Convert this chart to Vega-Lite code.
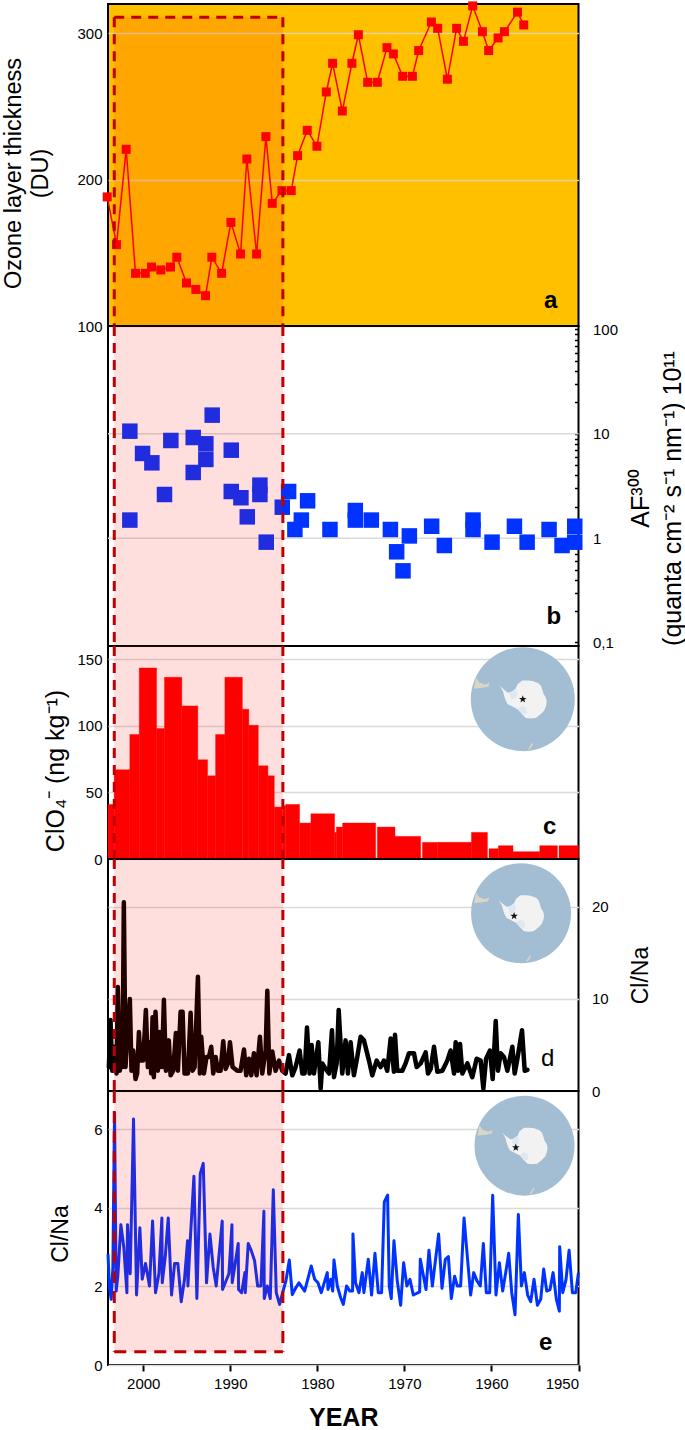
{"$schema":"https://vega.github.io/schema/vega-lite/v6.json","background":"white","padding":{"left":0,"top":0,"right":0,"bottom":0},"spacing":0,"bounds":"flush","config":{"font":"Liberation Sans","view":{"stroke":"black","strokeWidth":2},"axis":{"labelFont":"Liberation Sans","titleFont":"Liberation Sans","labelFontSize":15,"labelColor":"black","titleColor":"black","titleFontWeight":"normal","titleFontSize":23,"domain":false,"ticks":false,"labelPadding":6,"gridColor":"#DADADA","gridWidth":1.5,"gridOpacity":1}},"datasets":{"band":[{"year":2003.33,"year_end":1983.96}],"edges":[{"year":2003.33},{"year":1983.96}],"span":[{"year":2003.33,"year_end":1983.96}]},"vconcat":[{"width":470.5,"height":322,"view":{"fill":"#FFC000"},"encoding":{"x":{"field":"year","type":"quantitative","scale":{"domain":[2004.05,1950]},"axis":null}},"layer":[{"data":{"values":[{"year":2004.14,"value":188.2},{"year":2003.07,"value":155.6},{"year":2001.96,"value":220.7},{"year":2000.89,"value":136},{"year":1999.77,"value":136},{"year":1999.05,"value":140.3},{"year":1997.98,"value":138.3},{"year":1996.87,"value":140.3},{"year":1996.14,"value":147},{"year":1995.03,"value":129.4},{"year":1993.96,"value":125},{"year":1992.84,"value":120.7},{"year":1992.12,"value":147},{"year":1991.0,"value":136},{"year":1989.93,"value":170.8},{"year":1988.82,"value":149.2},{"year":1988.1,"value":214.1},{"year":1986.98,"value":149.2},{"year":1985.91,"value":229.4},{"year":1985.18,"value":183.8},{"year":1984.07,"value":192.5},{"year":1983.0,"value":192.5},{"year":1982.27,"value":216.4},{"year":1981.16,"value":233.7},{"year":1980.05,"value":222.8},{"year":1978.97,"value":259.9},{"year":1978.25,"value":279.5},{"year":1977.13,"value":246.9},{"year":1976.03,"value":279.5},{"year":1975.29,"value":299},{"year":1974.22,"value":266.5},{"year":1973.11,"value":266.5},{"year":1972.0,"value":290.2},{"year":1971.27,"value":285.9},{"year":1970.2,"value":270.6},{"year":1969.08,"value":270.6},{"year":1968.36,"value":288.2},{"year":1966.9,"value":307.7},{"year":1966.18,"value":303.4},{"year":1965.06,"value":268.6},{"year":1964.0,"value":303.4},{"year":1963.22,"value":294.5},{"year":1962.15,"value":318.7},{"year":1961.04,"value":301.1},{"year":1960.32,"value":288.2},{"year":1959.24,"value":296.8},{"year":1958.51,"value":301.1},{"year":1957.01,"value":314.4},{"year":1956.29,"value":305.7}]},"encoding":{"y":{"field":"value","type":"quantitative","scale":{"domain":[100,320],"nice":false,"zero":false},"axis":{"orient":"left","values":[100,200,300],"grid":true,"gridColor":"#E4D4A2","title":["Ozone  layer thickness","(DU)"],"titleFontSize":23.5,"titleX":-82.8,"titleY":169,"titleLineHeight":27}}},"layer":[{"mark":{"type":"line","color":"#FF0000","strokeWidth":1.5}},{"mark":{"type":"point","shape":"square","filled":true,"opacity":1,"size":81,"color":"#FF0000"}}]},{"data":{"name":"band"},"mark":{"type":"rect","color":"#FF0000","opacity":0.13},"encoding":{"x2":{"field":"year_end"},"y":{"datum":311,"type":"quantitative"},"y2":{"datum":100}}},{"data":{"name":"edges"},"mark":{"type":"rule","color":"#C00000","strokeWidth":3,"strokeDash":[10,7]},"encoding":{"y":{"datum":311,"type":"quantitative"},"y2":{"datum":100}}},{"data":{"name":"span"},"mark":{"type":"rule","color":"#C00000","strokeWidth":3,"strokeDash":[10,7]},"encoding":{"x2":{"field":"year_end"},"y":{"datum":311,"type":"quantitative"}}},{"data":{"values":[{"year":1953.19,"value":117,"label":"a"}]},"mark":{"type":"text","fontSize":24,"fontWeight":"bold","color":"black","baseline":"middle"},"encoding":{"y":{"field":"value","type":"quantitative"},"text":{"field":"label"}}}]},{"width":470.5,"height":320,"encoding":{"x":{"field":"year","type":"quantitative","scale":{"domain":[2004.05,1950]},"axis":null}},"layer":[{"data":{"values":[{"year":2001,"value":10},{"year":2001,"value":1}]},"mark":{"type":"rule","color":"#DADADA","strokeWidth":1.5},"encoding":{"x":{"value":0},"x2":{"value":470.5},"y":{"field":"value","type":"quantitative","scale":{"type":"log","domain":[0.0925,108],"nice":false},"axis":{"orient":"right","grid":false,"ticks":true,"tickSize":-4,"tickWidth":1.5,"tickColor":"black","labelPadding":18,"labelAlign":"left","values":[0.1,0.2,0.3,0.4,0.5,0.6,0.7,0.8,0.9,1,2,3,4,5,6,7,8,9,10,20,30,40,50,60,70,80,90,100],"labelOverlap":false,"labelBound":false,"labelFlush":false,"labelExpr":"datum.value==100?'100':datum.value==10?'10':datum.value==1?'1':datum.value==0.1?'0,1':''","title":["AF³⁰⁰","(quanta  cm⁻² s⁻¹ nm⁻¹) 10¹¹"],"titleFontSize":25,"titleX":74.5,"titleY":172,"titleAngle":270,"titleBaseline":"bottom","titleLineHeight":32}}}},{"data":{"values":[{"year":2001.54,"value":10.6},{"year":2001.54,"value":1.49},{"year":2000.08,"value":6.48},{"year":1999.01,"value":5.27},{"year":1997.56,"value":2.62},{"year":1996.83,"value":8.63},{"year":1994.26,"value":9.22},{"year":1994.26,"value":4.26},{"year":1992.81,"value":8.02},{"year":1992.81,"value":5.68},{"year":1992.08,"value":15.1},{"year":1989.89,"value":6.97},{"year":1989.89,"value":2.8},{"year":1988.78,"value":2.44},{"year":1988.05,"value":1.6},{"year":1986.6,"value":3.22},{"year":1986.6,"value":2.62},{"year":1985.87,"value":0.915},{"year":1984.03,"value":1.98},{"year":1983.3,"value":2.8},{"year":1982.58,"value":1.21},{"year":1981.84,"value":1.49},{"year":1981.12,"value":2.28},{"year":1978.55,"value":1.21},{"year":1975.64,"value":1.84},{"year":1975.64,"value":1.49},{"year":1973.8,"value":1.49},{"year":1971.61,"value":1.21},{"year":1970.89,"value":0.74},{"year":1970.16,"value":0.486},{"year":1969.43,"value":1.05},{"year":1966.87,"value":1.3},{"year":1965.41,"value":0.85},{"year":1962.12,"value":1.49},{"year":1962.12,"value":1.21},{"year":1959.93,"value":0.915},{"year":1957.36,"value":1.3},{"year":1955.9,"value":0.915},{"year":1953.38,"value":1.21},{"year":1951.89,"value":0.85},{"year":1950.43,"value":1.3},{"year":1950.43,"value":0.915}]},"mark":{"type":"point","shape":"square","filled":true,"opacity":1,"size":240,"color":"#0033FF"},"encoding":{"y":{"field":"value","type":"quantitative"}}},{"data":{"name":"band"},"mark":{"type":"rect","color":"#FF0000","opacity":0.13},"encoding":{"x2":{"field":"year_end"}}},{"data":{"name":"edges"},"mark":{"type":"rule","color":"#C00000","strokeWidth":3,"strokeDash":[10,7]},"encoding":{}},{"data":{"values":[{"year":1952.84,"value":0.174,"label":"b"}]},"mark":{"type":"text","fontSize":24,"fontWeight":"bold","color":"black","baseline":"middle"},"encoding":{"y":{"field":"value","type":"quantitative"},"text":{"field":"label"}}}]},{"width":470.5,"height":213,"encoding":{"x":{"field":"year","type":"quantitative","scale":{"domain":[2004.05,1950]},"axis":null}},"layer":[{"data":{"values":[{"year":2004.05,"year_end":2003.34,"value":41},{"year":2003.34,"year_end":2001.54,"value":67},{"year":2001.54,"year_end":2000.46,"value":93.5},{"year":2000.46,"year_end":1998.47,"value":143.5},{"year":1998.47,"year_end":1997.56,"value":98},{"year":1997.56,"year_end":1995.57,"value":136.5},{"year":1995.57,"year_end":1993.73,"value":115},{"year":1993.73,"year_end":1992.61,"value":74.5},{"year":1992.61,"year_end":1991.69,"value":62.5},{"year":1991.69,"year_end":1990.62,"value":93.5},{"year":1990.62,"year_end":1988.62,"value":136.5},{"year":1988.62,"year_end":1987.87,"value":112.5},{"year":1987.87,"year_end":1986.79,"value":100.5},{"year":1986.79,"year_end":1985.68,"value":70},{"year":1985.68,"year_end":1984.95,"value":62.5},{"year":1984.95,"year_end":1984.03,"value":39},{"year":1984.03,"year_end":1983.65,"value":40},{"year":1983.65,"year_end":1982.04,"value":41},{"year":1982.04,"year_end":1980.74,"value":27},{"year":1980.74,"year_end":1978.02,"value":34},{"year":1978.02,"year_end":1977.82,"value":20},{"year":1977.82,"year_end":1977.1,"value":24},{"year":1977.1,"year_end":1973.3,"value":27},{"year":1973.11,"year_end":1971.08,"value":24},{"year":1971.08,"year_end":1968.13,"value":17},{"year":1967.93,"year_end":1966.21,"value":12.5},{"year":1966.21,"year_end":1962.3,"value":12.5},{"year":1962.3,"year_end":1960.46,"value":20},{"year":1960.28,"year_end":1959.2,"value":7.7},{"year":1959.2,"year_end":1957.52,"value":10},{"year":1957.52,"year_end":1954.45,"value":5.5},{"year":1954.45,"year_end":1952.42,"value":10},{"year":1952.24,"year_end":1950,"value":10}]},"mark":{"type":"rect","color":"#FF0000","stroke":"#FF0000","strokeWidth":0.4},"encoding":{"x2":{"field":"year_end"},"y":{"field":"value","type":"quantitative","scale":{"domain":[0,160],"nice":false},"axis":{"orient":"left","values":[0,50,100,150],"grid":true,"title":"ClO₄⁻ (ng kg⁻¹)","titleFontSize":25,"titleX":-40,"titleY":124.5}},"y2":{"datum":0}}},{"data":{"values":[{"year":1956.4,"value":120}]},"encoding":{"y":{"field":"value","type":"quantitative"}},"layer":[{"mark":{"type":"point","shape":"circle","filled":true,"opacity":1,"size":10816,"color":"#A3BDD3"}},{"mark":{"type":"point","shape":"M-.94 -.2 L-.9 -.42 L-.84 -.32 L-.72 -.28 L-.64 -.32 L-.66 -.24 L-.78 -.22Z M.1 .96 L.18 .84 L.2 .86 L.14 .96Z","filled":true,"opacity":1,"size":10816,"color":"#DAD6C6"}},{"mark":{"type":"point","shape":"M-.44 -.26L-.38 -.2L-.29 -.13L-.22 -.14L-.14 -.2L-.1 -.29L-.01 -.36L.1 -.36L.19 -.35L.3 -.31L.35 -.26L.38 -.17L.4 -.1L.44 -.04L.46 .03L.45 .12L.41 .22L.34 .29L.25 .36L.15 .37L.06 .36L-.02 .28L-.1 .19L-.2 .14L-.295 .09L-.33 .02L-.36 -.07L-.38 -.15Z","filled":true,"opacity":1,"size":10816,"color":"#F2F2F2"}},{"mark":{"type":"point","shape":"M-.1 .19 L-.02 .13 L.06 .16 L.08 .26 L.04 .3 L-.04 .24Z M-.26 -.12 L-.14 -.2 L-.1 -.1 L-.14 -.02 L-.22 0Z","filled":true,"opacity":1,"size":10816,"color":"#DCE8F2"}},{"mark":{"type":"point","shape":"M0 -1L.24 -.31L.95 -.31L.38 .12L.59 .81L0 .38L-.59 .81L-.38 .12L-.95 -.31L-.24 -.31Z","filled":true,"opacity":1,"size":64,"color":"#111111"}}]},{"data":{"name":"band"},"mark":{"type":"rect","color":"#FF0000","opacity":0.13},"encoding":{"x2":{"field":"year_end"}}},{"data":{"name":"edges"},"mark":{"type":"rule","color":"#C00000","strokeWidth":3,"strokeDash":[10,7]},"encoding":{}},{"data":{"values":[{"year":1953.3,"value":24.4,"label":"c"}]},"mark":{"type":"text","fontSize":24,"fontWeight":"bold","color":"black","baseline":"middle"},"encoding":{"y":{"field":"value","type":"quantitative"},"text":{"field":"label"}}}]},{"width":470.5,"height":232,"encoding":{"x":{"field":"year","type":"quantitative","scale":{"domain":[2004.05,1950]},"axis":null}},"layer":[{"data":{"values":[{"year":2003.95,"value":2.6},{"year":2003.76,"value":7.7},{"year":2003.57,"value":2.2},{"year":2003.3,"value":4.8},{"year":2003.07,"value":1.9},{"year":2002.92,"value":11.3},{"year":2002.69,"value":2.2},{"year":2002.53,"value":7.7},{"year":2002.38,"value":2.6},{"year":2002.23,"value":20.5},{"year":2002.04,"value":2.6},{"year":2001.77,"value":7.0},{"year":2001.54,"value":10.0},{"year":2001.35,"value":2.2},{"year":2001.16,"value":4.4},{"year":2000.89,"value":1.3},{"year":2000.7,"value":1.9},{"year":2000.5,"value":6.4},{"year":2000.31,"value":3.3},{"year":2000.01,"value":3.3},{"year":1999.7,"value":8.8},{"year":1999.47,"value":2.6},{"year":1999.24,"value":5.3},{"year":1999.09,"value":1.9},{"year":1998.93,"value":8.0},{"year":1998.78,"value":1.5},{"year":1998.59,"value":8.6},{"year":1998.32,"value":2.2},{"year":1998.09,"value":6.4},{"year":1997.86,"value":2.6},{"year":1997.63,"value":9.9},{"year":1997.4,"value":2.2},{"year":1997.06,"value":5.5},{"year":1996.86,"value":1.7},{"year":1996.56,"value":2.2},{"year":1996.25,"value":6.3},{"year":1996.02,"value":2.2},{"year":1995.71,"value":8.6},{"year":1995.48,"value":8.6},{"year":1995.26,"value":1.9},{"year":1994.87,"value":1.9},{"year":1994.56,"value":8.5},{"year":1994.34,"value":2.2},{"year":1994.1,"value":2.6},{"year":1993.72,"value":12.4},{"year":1993.49,"value":1.9},{"year":1993.34,"value":5.9},{"year":1993.03,"value":1.9},{"year":1992.73,"value":3.7},{"year":1992.46,"value":3.7},{"year":1992.19,"value":4.8},{"year":1991.96,"value":1.9},{"year":1991.69,"value":3.7},{"year":1991.42,"value":2.2},{"year":1991.12,"value":2.2},{"year":1990.81,"value":5.4},{"year":1990.54,"value":2.4},{"year":1990.27,"value":3.0},{"year":1990.04,"value":5.3},{"year":1989.74,"value":2.6},{"year":1989.2,"value":2.2},{"year":1988.82,"value":2.2},{"year":1988.43,"value":4.5},{"year":1988.17,"value":1.7},{"year":1987.86,"value":3.5},{"year":1987.59,"value":1.7},{"year":1987.29,"value":4.1},{"year":1986.98,"value":1.7},{"year":1986.6,"value":5.9},{"year":1986.33,"value":1.9},{"year":1985.94,"value":4.4},{"year":1985.75,"value":10.9},{"year":1985.52,"value":1.9},{"year":1985.18,"value":4.3},{"year":1984.8,"value":2.2},{"year":1984.41,"value":3.3},{"year":1984.03,"value":2.2},{"year":1983.65,"value":1.9},{"year":1983.26,"value":3.9},{"year":1982.88,"value":1.7},{"year":1982.5,"value":2.6},{"year":1982.04,"value":4.4},{"year":1981.73,"value":1.9},{"year":1981.46,"value":1.9},{"year":1981.19,"value":6.9},{"year":1980.89,"value":1.9},{"year":1980.66,"value":5.0},{"year":1980.39,"value":1.9},{"year":1979.89,"value":5.3},{"year":1979.62,"value":0.25},{"year":1979.43,"value":3.0},{"year":1979.05,"value":2.4},{"year":1978.66,"value":1.9},{"year":1978.32,"value":6.6},{"year":1978.09,"value":1.5},{"year":1977.78,"value":3.0},{"year":1977.55,"value":8.8},{"year":1977.14,"value":1.9},{"year":1976.76,"value":5.5},{"year":1976.49,"value":1.9},{"year":1976.18,"value":5.3},{"year":1975.8,"value":1.7},{"year":1975.41,"value":3.7},{"year":1975.03,"value":5.9},{"year":1974.65,"value":5.5},{"year":1974.07,"value":3.3},{"year":1973.69,"value":1.7},{"year":1973.19,"value":3.3},{"year":1972.73,"value":2.6},{"year":1972.35,"value":3.3},{"year":1971.97,"value":2.2},{"year":1971.58,"value":5.7},{"year":1971.2,"value":2.1},{"year":1971.08,"value":6.1},{"year":1970.82,"value":2.2},{"year":1970.24,"value":2.2},{"year":1969.86,"value":3.0},{"year":1969.48,"value":4.1},{"year":1968.9,"value":4.1},{"year":1968.59,"value":2.6},{"year":1968.13,"value":3.0},{"year":1967.56,"value":4.2},{"year":1967.29,"value":1.9},{"year":1966.98,"value":2.4},{"year":1966.6,"value":4.8},{"year":1966.22,"value":2.1},{"year":1965.64,"value":2.2},{"year":1965.07,"value":3.3},{"year":1964.69,"value":4.4},{"year":1964.3,"value":1.9},{"year":1964.11,"value":5.3},{"year":1963.84,"value":2.2},{"year":1963.61,"value":5.1},{"year":1963.34,"value":1.9},{"year":1962.77,"value":3.0},{"year":1962.2,"value":1.5},{"year":1961.7,"value":3.5},{"year":1961.24,"value":3.3},{"year":1960.93,"value":0.25},{"year":1960.62,"value":3.5},{"year":1960.17,"value":4.4},{"year":1959.86,"value":1.3},{"year":1959.51,"value":7.6},{"year":1959.25,"value":2.2},{"year":1958.94,"value":4.1},{"year":1958.56,"value":3.7},{"year":1958.17,"value":2.2},{"year":1957.6,"value":4.8},{"year":1957.33,"value":1.9},{"year":1957.02,"value":3.5},{"year":1956.49,"value":6.6},{"year":1956.18,"value":2.2},{"year":1955.87,"value":2.3}]},"mark":{"type":"line","color":"#000000","strokeWidth":4.5,"strokeJoin":"round","strokeCap":"round"},"encoding":{"y":{"field":"value","type":"quantitative","scale":{"domain":[0,25.2],"nice":false},"axis":{"orient":"right","values":[0,10,20],"grid":true,"labelPadding":13,"labelAlign":"left","title":"Cl/Na","titleX":73.5,"titleY":116,"titleAngle":270,"titleBaseline":"bottom"}}}},{"data":{"values":[{"year":1956.6,"value":19.3}]},"encoding":{"y":{"field":"value","type":"quantitative"}},"layer":[{"mark":{"type":"point","shape":"circle","filled":true,"opacity":1,"size":10000,"color":"#A3BDD3"}},{"mark":{"type":"point","shape":"M-.94 -.2 L-.9 -.42 L-.84 -.32 L-.72 -.28 L-.64 -.32 L-.66 -.24 L-.78 -.22Z M.1 .96 L.18 .84 L.2 .86 L.14 .96Z","filled":true,"opacity":1,"size":10000,"color":"#DAD6C6"}},{"mark":{"type":"point","shape":"M-.44 -.26L-.38 -.2L-.29 -.13L-.22 -.14L-.14 -.2L-.1 -.29L-.01 -.36L.1 -.36L.19 -.35L.3 -.31L.35 -.26L.38 -.17L.4 -.1L.44 -.04L.46 .03L.45 .12L.41 .22L.34 .29L.25 .36L.15 .37L.06 .36L-.02 .28L-.1 .19L-.2 .14L-.295 .09L-.33 .02L-.36 -.07L-.38 -.15Z","filled":true,"opacity":1,"size":10000,"color":"#F2F2F2"}},{"mark":{"type":"point","shape":"M-.1 .19 L-.02 .13 L.06 .16 L.08 .26 L.04 .3 L-.04 .24Z M-.26 -.12 L-.14 -.2 L-.1 -.1 L-.14 -.02 L-.22 0Z","filled":true,"opacity":1,"size":10000,"color":"#DCE8F2"}}]},{"data":{"values":[{"year":1957.4,"value":19.0}]},"mark":{"type":"point","shape":"M0 -1L.24 -.31L.95 -.31L.38 .12L.59 .81L0 .38L-.59 .81L-.38 .12L-.95 -.31L-.24 -.31Z","filled":true,"opacity":1,"size":64,"color":"#111111"},"encoding":{"y":{"field":"value","type":"quantitative"}}},{"data":{"name":"band"},"mark":{"type":"rect","color":"#FF0000","opacity":0.13},"encoding":{"x2":{"field":"year_end"}}},{"data":{"name":"edges"},"mark":{"type":"rule","color":"#C00000","strokeWidth":3,"strokeDash":[10,7]},"encoding":{}},{"data":{"values":[{"year":1953.53,"value":3.45,"label":"d"}]},"mark":{"type":"text","fontSize":24,"color":"black","baseline":"middle"},"encoding":{"y":{"field":"value","type":"quantitative"},"text":{"field":"label"}}}]},{"width":470.5,"height":274,"encoding":{"x":{"field":"year","type":"quantitative","scale":{"domain":[2004.05,1950]},"axis":{"values":[2000,1990,1980,1970,1960,1950],"format":"d","grid":false,"ticks":true,"tickSize":6,"tickWidth":2,"tickColor":"black","labelPadding":5,"labelFontSize":15,"title":"YEAR","titleFontSize":25,"titleFontWeight":"bold","titlePadding":14}}},"layer":[{"data":{"values":[{"year":2004.05,"value":2.82},{"year":2003.88,"value":1.97},{"year":2003.68,"value":1.67},{"year":2003.49,"value":2.48},{"year":2003.3,"value":6.41},{"year":2003.11,"value":1.88},{"year":2002.92,"value":2.26},{"year":2002.57,"value":3.57},{"year":2002.23,"value":2.99},{"year":2001.88,"value":1.84},{"year":2001.81,"value":3.57},{"year":2001.5,"value":2.32},{"year":2001.12,"value":6.26},{"year":2000.77,"value":1.78},{"year":2000.39,"value":3.49},{"year":2000.12,"value":2.18},{"year":1999.74,"value":2.58},{"year":1999.28,"value":2.01},{"year":1998.93,"value":3.66},{"year":1998.59,"value":1.84},{"year":1998.2,"value":2.32},{"year":1997.86,"value":3.74},{"year":1997.82,"value":2.09},{"year":1997.48,"value":2.74},{"year":1997.13,"value":3.74},{"year":1996.75,"value":1.78},{"year":1996.4,"value":2.58},{"year":1996.02,"value":2.58},{"year":1995.64,"value":1.61},{"year":1995.26,"value":2.18},{"year":1994.91,"value":3.16},{"year":1994.87,"value":2.01},{"year":1994.56,"value":3.33},{"year":1994.18,"value":4.8},{"year":1993.84,"value":1.69},{"year":1993.45,"value":4.87},{"year":1993.11,"value":5.13},{"year":1992.73,"value":2.09},{"year":1992.34,"value":3.33},{"year":1991.96,"value":2.48},{"year":1991.62,"value":2.01},{"year":1990.93,"value":3.66},{"year":1990.89,"value":1.92},{"year":1990.16,"value":2.32},{"year":1989.81,"value":3.57},{"year":1989.78,"value":2.09},{"year":1989.09,"value":3.09},{"year":1989.05,"value":1.92},{"year":1988.7,"value":1.84},{"year":1988.32,"value":2.35},{"year":1988.28,"value":1.84},{"year":1987.94,"value":3.09},{"year":1987.59,"value":2.91},{"year":1987.21,"value":2.65},{"year":1986.86,"value":2.01},{"year":1986.48,"value":2.01},{"year":1986.14,"value":3.91},{"year":1986.1,"value":1.69},{"year":1985.75,"value":2.01},{"year":1985.41,"value":1.69},{"year":1985.06,"value":4.46},{"year":1984.72,"value":1.84},{"year":1984.34,"value":1.54},{"year":1983.99,"value":1.84},{"year":1983.61,"value":2.14},{"year":1983.22,"value":2.67},{"year":1982.88,"value":1.79},{"year":1982.46,"value":1.97},{"year":1982.11,"value":2.09},{"year":1981.46,"value":1.88},{"year":1980.7,"value":2.52},{"year":1980.31,"value":2.18},{"year":1979.93,"value":2.09},{"year":1979.55,"value":1.84},{"year":1978.86,"value":2.35},{"year":1978.78,"value":1.92},{"year":1978.47,"value":2.18},{"year":1978.24,"value":1.88},{"year":1978.09,"value":2.67},{"year":1977.71,"value":2.01},{"year":1977.32,"value":1.71},{"year":1977.02,"value":1.54},{"year":1976.64,"value":2.01},{"year":1976.26,"value":1.88},{"year":1975.95,"value":1.88},{"year":1975.91,"value":3.33},{"year":1975.61,"value":2.09},{"year":1975.22,"value":1.84},{"year":1974.84,"value":2.35},{"year":1974.65,"value":1.84},{"year":1974.15,"value":2.69},{"year":1973.77,"value":1.78},{"year":1973.38,"value":2.84},{"year":1973.0,"value":1.84},{"year":1972.62,"value":1.84},{"year":1972.31,"value":4.15},{"year":1971.93,"value":4.32},{"year":1971.74,"value":2.01},{"year":1971.51,"value":1.69},{"year":1971.2,"value":3.16},{"year":1970.82,"value":2.14},{"year":1970.43,"value":1.52},{"year":1970.09,"value":2.6},{"year":1969.71,"value":2.01},{"year":1969.36,"value":2.18},{"year":1968.98,"value":1.78},{"year":1968.25,"value":1.86},{"year":1968.17,"value":2.69},{"year":1967.52,"value":1.92},{"year":1967.18,"value":2.92},{"year":1966.79,"value":2.01},{"year":1966.07,"value":3.33},{"year":1965.68,"value":1.95},{"year":1965.3,"value":2.69},{"year":1964.95,"value":2.76},{"year":1964.61,"value":1.69},{"year":1964.23,"value":2.26},{"year":1963.92,"value":2.01},{"year":1963.54,"value":2.01},{"year":1963.15,"value":3.74},{"year":1962.39,"value":1.78},{"year":1962.04,"value":2.35},{"year":1961.66,"value":2.14},{"year":1961.28,"value":2.01},{"year":1960.93,"value":3.09},{"year":1960.59,"value":1.84},{"year":1960.2,"value":1.84},{"year":1959.86,"value":4.32},{"year":1959.48,"value":1.78},{"year":1959.09,"value":2.6},{"year":1958.71,"value":1.88},{"year":1958.36,"value":2.35},{"year":1958.02,"value":2.84},{"year":1957.67,"value":1.84},{"year":1957.29,"value":1.28},{"year":1956.91,"value":3.83},{"year":1956.56,"value":2.01},{"year":1956.22,"value":2.35},{"year":1955.84,"value":1.78},{"year":1955.49,"value":1.61},{"year":1955.11,"value":2.18},{"year":1954.72,"value":1.52},{"year":1954.34,"value":1.67},{"year":1954.0,"value":2.44},{"year":1953.65,"value":1.88},{"year":1953.27,"value":1.92},{"year":1952.92,"value":2.35},{"year":1952.54,"value":1.67},{"year":1952.2,"value":1.37},{"year":1952.16,"value":3.01},{"year":1951.81,"value":1.84},{"year":1951.43,"value":2.18},{"year":1951.08,"value":2.92},{"year":1950.7,"value":1.84},{"year":1950.32,"value":1.84},{"year":1950,"value":2.35}]},"mark":{"type":"line","color":"#0033FF","strokeWidth":3,"strokeJoin":"round"},"encoding":{"y":{"field":"value","type":"quantitative","scale":{"domain":[0,6.97],"nice":false},"axis":{"orient":"left","values":[0,2,4,6],"grid":true,"title":"Cl/Na","titleX":-36,"titleY":142.5}}}},{"data":{"values":[{"year":1956.2,"value":5.58}]},"encoding":{"y":{"field":"value","type":"quantitative"}},"layer":[{"mark":{"type":"point","shape":"circle","filled":true,"opacity":1,"size":10000,"color":"#A3BDD3"}},{"mark":{"type":"point","shape":"M-.94 -.2 L-.9 -.42 L-.84 -.32 L-.72 -.28 L-.64 -.32 L-.66 -.24 L-.78 -.22Z M.1 .96 L.18 .84 L.2 .86 L.14 .96Z","filled":true,"opacity":1,"size":10000,"color":"#DAD6C6"}},{"mark":{"type":"point","shape":"M-.44 -.26L-.38 -.2L-.29 -.13L-.22 -.14L-.14 -.2L-.1 -.29L-.01 -.36L.1 -.36L.19 -.35L.3 -.31L.35 -.26L.38 -.17L.4 -.1L.44 -.04L.46 .03L.45 .12L.41 .22L.34 .29L.25 .36L.15 .37L.06 .36L-.02 .28L-.1 .19L-.2 .14L-.295 .09L-.33 .02L-.36 -.07L-.38 -.15Z","filled":true,"opacity":1,"size":10000,"color":"#F2F2F2"}},{"mark":{"type":"point","shape":"M-.1 .19 L-.02 .13 L.06 .16 L.08 .26 L.04 .3 L-.04 .24Z M-.26 -.12 L-.14 -.2 L-.1 -.1 L-.14 -.02 L-.22 0Z","filled":true,"opacity":1,"size":10000,"color":"#DCE8F2"}}]},{"data":{"values":[{"year":1957.2,"value":5.53}]},"mark":{"type":"point","shape":"M0 -1L.24 -.31L.95 -.31L.38 .12L.59 .81L0 .38L-.59 .81L-.38 .12L-.95 -.31L-.24 -.31Z","filled":true,"opacity":1,"size":64,"color":"#111111"},"encoding":{"y":{"field":"value","type":"quantitative"}}},{"data":{"name":"band"},"mark":{"type":"rect","color":"#FF0000","opacity":0.13},"encoding":{"x2":{"field":"year_end"},"y":{"datum":6.97,"type":"quantitative"},"y2":{"datum":0.34}}},{"data":{"name":"edges"},"mark":{"type":"rule","color":"#C00000","strokeWidth":3,"strokeDash":[12,8]},"encoding":{"y":{"datum":6.97,"type":"quantitative"},"y2":{"datum":0.34}}},{"data":{"name":"span"},"mark":{"type":"rule","color":"#C00000","strokeWidth":3,"strokeDash":[12,8]},"encoding":{"x2":{"field":"year_end"},"y":{"datum":0.34,"type":"quantitative"}}},{"data":{"values":[{"year":1953.76,"value":0.55,"label":"e"}]},"mark":{"type":"text","fontSize":24,"fontWeight":"bold","color":"black","baseline":"middle"},"encoding":{"y":{"field":"value","type":"quantitative"},"text":{"field":"label"}}}]}]}
